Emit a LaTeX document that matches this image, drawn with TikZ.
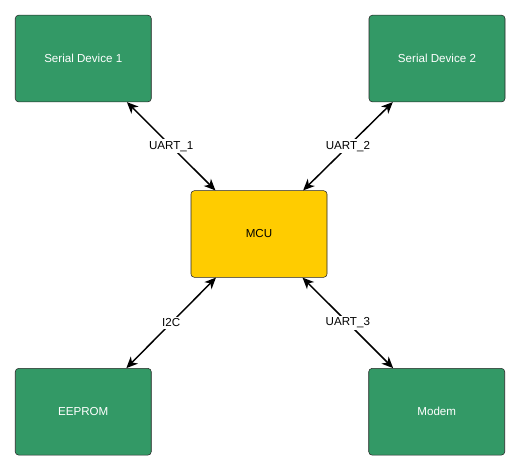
\documentclass[tikz,border=0pt]{standalone}
\usepackage{fontspec}
\setmainfont{Liberation Sans}
\usetikzlibrary{arrows.meta, positioning}

\definecolor{devgreen}{RGB}{51,153,102}
\definecolor{mcuyellow}{RGB}{255,204,0}

\begin{document}
\begin{tikzpicture}[on grid,
    box/.style={draw=black!85, rounded corners=2.5pt, minimum width=102pt,
      minimum height=65pt, inner sep=0pt, font=\fontsize{8.7}{10}\selectfont},
    dev/.style={box, fill=devgreen, text=white},
    bus/.style={line width=1.1pt, {Stealth[length=8.5pt,width=7.5pt,inset=2.5pt]}-{Stealth[length=8.5pt,width=7.5pt,inset=2.5pt]}},
    lbl/.style={fill=white, inner sep=1.5pt, font=\fontsize{8.7}{10}\selectfont}]
  \useasboundingbox (-194.25pt,-177.75pt) rectangle (195.75pt,175.5pt);
  \node[box, fill=mcuyellow] (mcu) at (0,0) {MCU};
  \node[dev] (sd1) [above left=131.6pt and 131.8pt of mcu] {Serial Device 1};
  \node[dev] (sd2) [above right=131.6pt and 133.5pt of mcu] {Serial Device 2};
  \node[dev] (eeprom) [below left=133.3pt and 131.8pt of mcu] {EEPROM};
  \node[dev] (modem) [below right=133.3pt and 133.3pt of mcu] {Modem};

  \path[bus]
    (sd1) edge node[lbl] {UART\_1} (mcu)
    (sd2) edge node[lbl] {UART\_2} (mcu)
    (eeprom) edge node[lbl] {I2C} (mcu)
    (modem) edge node[lbl] {UART\_3} (mcu);
\end{tikzpicture}
\end{document}
